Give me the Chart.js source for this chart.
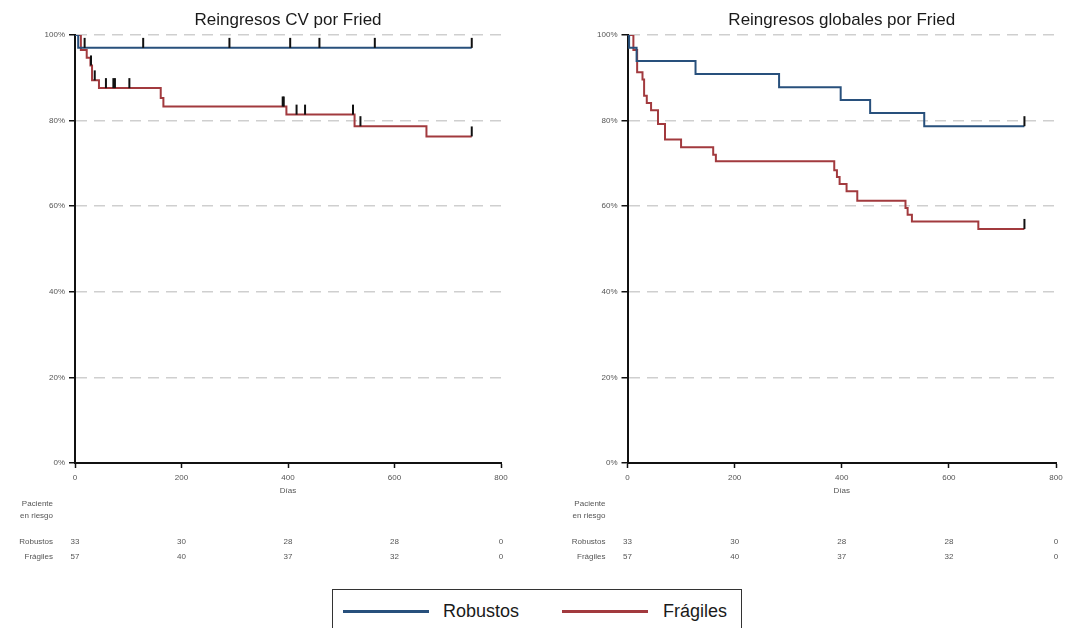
<!DOCTYPE html>
<html lang="es">
<head>
<meta charset="utf-8">
<title>Reingresos por Fried</title>
<script src="https://cdn.jsdelivr.net/npm/chart.js@4/dist/chart.umd.min.js"></script>
<style>
  html, body { margin: 0; padding: 0; background: #fff; }
  body { width: 1067px; height: 628px; overflow: hidden; position: relative;
         font-family: 'Liberation Sans', Arial, sans-serif; }
  canvas { position: absolute; top: 0; }
  #cvChart { left: 0; }
  #globalChart { left: 540px; }
  #legend { position: absolute; left: 332px; top: 589px; width: 408px; height: 60px;
            border: 1px solid #333; box-sizing: content-box; }
  #legend .sw { position: absolute; top: 20px; width: 86px; height: 3px; }
  #legend .lb { position: absolute; top: 10px; font-size: 18px; line-height: 22px; color: #1a1a1a; }
</style>
</head>
<body>
<canvas id="cvChart" width="533" height="580"></canvas>
<canvas id="globalChart" width="560" height="580"></canvas>
<div id="legend">
  <span class="sw" style="left:10px;background:#28507c"></span><span class="lb" style="left:110px">Robustos</span>
  <span class="sw" style="left:229px;background:#a23a3e"></span><span class="lb" style="left:330px">Frágiles</span>
</div>
<script>
// Risk table (pacientes en riesgo) at the x tick positions
const riskDays = [0, 200, 400, 600, 800];
const riskRobustos = [33, 30, 28, 28, 0];
const riskFragiles = [57, 40, 37, 32, 0];

// Reingresos CV: step times (días) and survival (%)
const cvRobDays = [0, 6, 745];
const cvRobSurv = [100, 97.0, 97.0];
const cvRobCens = [18, 128, 290, 404, 459, 563, 745];
const cvFraDays = [0, 11, 22, 29, 32, 45, 161, 166, 397, 525, 660, 745];
const cvFraSurv = [100, 96.5, 94.7, 92.9, 89.4, 87.6, 85.3, 83.3, 81.4, 78.7, 76.3, 76.3];
const cvFraCens = [30, 37, 58, 72, 75, 102, 390, 392, 416, 432, 522, 536, 745];

// Reingresos globales
const glRobDays = [0, 3, 17, 127, 283, 398, 453, 554, 741];
const glRobSurv = [100, 97.0, 93.9, 90.9, 87.8, 84.8, 81.8, 78.7, 78.7];
const glRobCens = [741];
const glFraDays = [0, 11, 18, 28, 31, 36, 44, 57, 70, 100, 160, 165, 386, 391, 396, 409, 429, 519, 523, 531, 655, 741];
const glFraSurv = [100, 96.5, 91.3, 89.6, 85.8, 84.1, 82.4, 79.2, 75.6, 73.8, 72.0, 70.5, 68.4, 66.8, 65.2, 63.5, 61.3, 59.6, 58.0, 56.4, 54.7, 54.7];
const glFraCens = [741];

const COLOR_ROB = '#28507c';
const COLOR_FRA = '#a23a3e';
const FONT = "'Liberation Sans', Arial, sans-serif";
Chart.defaults.font.family = FONT;

// Censoring mark: a short vertical stroke rising from the curve
const censorMark = (() => {
  const c = document.createElement('canvas');
  c.width = 4; c.height = 22;
  const g = c.getContext('2d');
  g.fillStyle = '#111';
  g.fillRect(1, 1, 2, 10);
  return c;
})();

// Survival level of a step curve at time t
function levelAt(days, surv, t) {
  let v = surv[0];
  for (let i = 0; i < days.length; i++) if (days[i] <= t) v = surv[i];
  return v;
}
const curve = (days, surv) => days.map((d, i) => ({ x: d, y: surv[i] }));
const censors = (cens, days, surv) => cens.map(t => ({ x: t, y: levelAt(days, surv, t) }));

const riskTablePlugin = {
  id: 'riskTable',
  afterDraw(chart) {
    const { ctx, chartArea, scales: { x } } = chart;
    ctx.save();
    ctx.font = '8px ' + FONT;
    ctx.fillStyle = '#555';
    ctx.textBaseline = 'middle';
    ctx.textAlign = 'right';
    const lx = chartArea.left - 22;
    ctx.fillText('Paciente', lx, 504);
    ctx.fillText('en riesgo', lx, 516);
    ctx.fillText('Robustos', lx, 542);
    ctx.fillText('Frágiles', lx, 557);
    ctx.textAlign = 'center';
    riskDays.forEach((d, i) => {
      const px = x.getPixelForValue(d);
      ctx.fillText(String(riskRobustos[i]), px, 542);
      ctx.fillText(String(riskFragiles[i]), px, 557);
    });
    ctx.restore();
  }
};

function kmChart(id, title, yWidth, padRight, rob, fra) {
  const lineDs = (label, data, color) => ({
    type: 'line', label, data, borderColor: color, borderWidth: 2,
    stepped: 'before', pointRadius: 0, fill: false, order: 2
  });
  const censDs = (data) => ({
    type: 'scatter', data, pointStyle: censorMark, pointRadius: 5,
    showLine: false, order: 1
  });
  return new Chart(document.getElementById(id), {
    type: 'line',
    data: {
      datasets: [
        lineDs('Robustos', curve(rob.days, rob.surv), COLOR_ROB),
        lineDs('Frágiles', curve(fra.days, fra.surv), COLOR_FRA),
        censDs(censors(rob.cens, rob.days, rob.surv)),
        censDs(censors(fra.cens, fra.days, fra.surv))
      ]
    },
    options: {
      responsive: false,
      animation: false,
      events: [],
      layout: { padding: { left: 0, right: padRight, top: 0, bottom: 0 } },
      plugins: {
        legend: { display: false },
        tooltip: { enabled: false },
        title: {
          display: true, text: title, fullSize: false, color: '#1a1a1a',
          font: { size: 17, weight: 'normal' }, padding: { top: 10, bottom: 4.6 }
        }
      },
      scales: {
        x: {
          type: 'linear', min: 0, max: 800, position: 'bottom',
          ticks: { stepSize: 200, color: '#555', font: { size: 8 }, padding: 5, maxRotation: 0 },
          grid: { drawOnChartArea: false, drawTicks: true, tickLength: 5, tickColor: '#111', tickWidth: 1.5 },
          border: { color: '#111', width: 2 },
          title: { display: true, text: 'Días', color: '#555', font: { size: 8 }, padding: { top: 0, bottom: 84.7 } },
          afterFit: s => { s.height = 117; }
        },
        y: {
          min: 0, max: 100,
          ticks: { stepSize: 20, color: '#555', font: { size: 8 }, padding: 4, callback: v => v + '%' },
          grid: {
            color: c => (c.tick && c.tick.value === 0) ? 'rgba(0,0,0,0)' : '#cfcfcf',
            lineWidth: 1.5, tickColor: '#111', tickLength: 6, tickWidth: 1.5
          },
          border: { color: '#111', width: 2, dash: [11, 7] },
          afterFit: s => { s.width = yWidth; }
        }
      }
    },
    plugins: [riskTablePlugin]
  });
}

kmChart('cvChart', 'Reingresos CV por Fried', 75, 32,
  { days: cvRobDays, surv: cvRobSurv, cens: cvRobCens },
  { days: cvFraDays, surv: cvFraSurv, cens: cvFraCens });

kmChart('globalChart', 'Reingresos globales por Fried', 87.5, 44,
  { days: glRobDays, surv: glRobSurv, cens: glRobCens },
  { days: glFraDays, surv: glFraSurv, cens: glFraCens });
</script>
</body>
</html>
